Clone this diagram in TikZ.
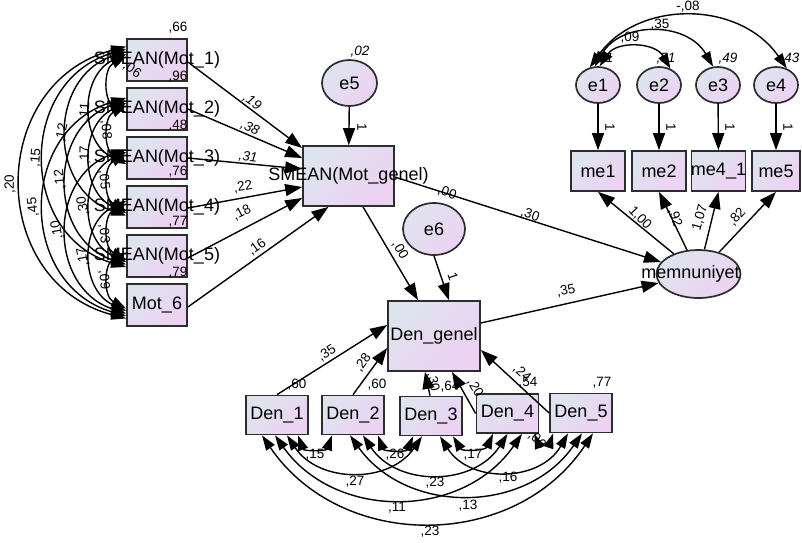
\documentclass[tikz,border=0pt]{standalone}
\usepackage{fontspec}
\setmainfont{Liberation Sans}
\usetikzlibrary{arrows.meta,shapes.geometric}

\definecolor{fillA}{RGB}{222,228,238}
\definecolor{fillB}{RGB}{237,210,244}
\definecolor{rim}{RGB}{45,45,45}

\tikzset{
  shaded/.style={draw=rim, line width=1.7pt, top color=fillA, bottom color=fillB,
    shading angle=45, inner sep=0pt},
  obsbox/.style={shaded, rectangle},
  latent/.style={shaded, ellipse},
  vname/.style={font=\fontsize{18}{20}\selectfont, inner sep=0pt},
  num/.style={font=\fontsize{13.5}{15}\selectfont, inner sep=0pt},
  numi/.style={font=\fontsize{13.5}{15}\selectfont\itshape, inner sep=0pt},
  reg/.style={line width=1.4pt, -{Triangle[length=17pt,width=12pt]}},
  cov/.style={line width=1.4pt, {Triangle[length=15pt,width=10pt]}-{Triangle[length=15pt,width=10pt]}},
}

\begin{document}
\begin{tikzpicture}[x=1pt,y=1pt]
\useasboundingbox (0,0) rectangle (802,-542);
\fill[white] (0,0) rectangle (802,-542);

% ---------- observed motivation items ----------
\node[obsbox, minimum width=60pt, minimum height=42pt, label={[vname]center:SMEAN(Mot\_1)}] (M1) at (157,-60) {};
\node[obsbox, minimum width=60pt, minimum height=42pt, label={[vname]center:SMEAN(Mot\_2)}] (M2) at (157,-109) {};
\node[obsbox, minimum width=60pt, minimum height=42pt, label={[vname]center:SMEAN(Mot\_3)}] (M3) at (157,-158) {};
\node[obsbox, minimum width=60pt, minimum height=42pt, label={[vname]center:SMEAN(Mot\_4)}] (M4) at (157,-207) {};
\node[obsbox, minimum width=60pt, minimum height=42pt, label={[vname]center:SMEAN(Mot\_5)}] (M5) at (157,-256) {};
\node[obsbox, minimum width=60pt, minimum height=42pt, label={[vname]center:Mot\_6}] (M6) at (157,-305) {};

% ---------- central variables ----------
\node[obsbox, minimum width=91pt, minimum height=60pt, label={[vname]center:SMEAN(Mot\_genel)}] (MG) at (348.5,-176) {};
\node[latent, minimum width=55pt, minimum height=46pt, label={[vname]center:e5}] (e5) at (349.5,-83) {};
\node[latent, minimum width=62pt, minimum height=52pt, label={[vname]center:e6}] (e6) at (434,-229) {};
\node[obsbox, minimum width=92pt, minimum height=70pt, label={[vname]center:Den\_genel}] (DG) at (434,-336) {};

% ---------- Den items ----------
\node[obsbox, minimum width=62pt, minimum height=39pt, label={[vname]center:Den\_1}] (D1) at (277,-415) {};
\node[obsbox, minimum width=62pt, minimum height=39pt, label={[vname]center:Den\_2}] (D2) at (353,-415) {};
\node[obsbox, minimum width=62pt, minimum height=39pt, label={[vname]center:Den\_3}] (D3) at (431,-416) {};
\node[obsbox, minimum width=62pt, minimum height=39pt, label={[vname]center:Den\_4}] (D4) at (507.5,-413.5) {};
\node[obsbox, minimum width=62pt, minimum height=39pt, label={[vname]center:Den\_5}] (D5) at (581,-413) {};

% ---------- satisfaction factor ----------
\node[latent, minimum width=84pt, minimum height=48pt, label={[vname, xshift=-8pt]center:memnuniyet}] (mem) at (698.5,-274) {};
\node[obsbox, minimum width=54pt, minimum height=40pt, label={[vname]center:me1}] (me1) at (598,-171) {};
\node[obsbox, minimum width=54pt, minimum height=40pt, label={[vname]center:me2}] (me2) at (659,-171) {};
\node[obsbox, minimum width=54pt, minimum height=40pt, label={[vname]center:me4\_1}] (me4) at (718.5,-171) {};
\node[obsbox, minimum width=48pt, minimum height=40pt, label={[vname]center:me5}] (me5) at (776,-171) {};
\node[latent, minimum width=44pt, minimum height=36pt, label={[vname]center:e1}] (e1) at (598,-85) {};
\node[latent, minimum width=44pt, minimum height=36pt, label={[vname]center:e2}] (e2) at (659,-85) {};
\node[latent, minimum width=44pt, minimum height=36pt, label={[vname]center:e3}] (e3) at (718,-85) {};
\node[latent, minimum width=44pt, minimum height=36pt, label={[vname]center:e4}] (e4) at (776,-85) {};

% ---------- estimates ----------
% variances of motivation items
\node[num] (vM1) at (178,-28) {,66};
\node[num] (vM2) at (178,-77) {,96};
\node[num] (vM3) at (178,-126) {,48};
\node[num] (vM4) at (178,-172) {,76};
\node[num] (vM5) at (178,-222) {,77};
\node[num] (vM6) at (178,-273) {,79};
% covariances of motivation items
\node[num, rotate=-35] (cM12) at (132,-70) {,06};
\node[num, rotate=85] (cM13) at (85,-112) {,11};
\node[num, rotate=80] (cM14) at (62,-133) {,12};
\node[num, rotate=85] (cM15) at (36,-158) {,15};
\node[num, rotate=90] (cM16) at (10,-184) {,20};
\node[num, rotate=-85] (cM23) at (106,-130) {,08};
\node[num, rotate=90] (cM24) at (85,-155) {,17};
\node[num, rotate=95] (cM25) at (60,-179) {,12};
\node[num, rotate=95] (cM26) at (33,-207) {,45};
\node[num, rotate=-85] (cM34) at (104,-180) {,05};
\node[num, rotate=100] (cM35) at (83,-206) {,30};
\node[num, rotate=100] (cM36) at (57,-230) {,10};
\node[num, rotate=-85] (cM45) at (104,-234) {,03};
\node[num, rotate=100] (cM46) at (83,-257) {,17};
\node[num, rotate=-85] (cM56) at (104,-280) {,09};
% weights into Mot_genel
\node[numi, rotate=-36] (wM1) at (252,-102) {,19};
\node[numi, rotate=-23] (wM2) at (250,-128) {,38};
\node[numi, rotate=-6] (wM3) at (248,-157) {,31};
\node[num, rotate=10] (wM4) at (243,-187) {,22};
\node[num, rotate=27] (wM5) at (242,-213) {,18};
\node[num, rotate=36] (wM6) at (257,-247) {,16};
\node[numi] (v5) at (360,-52) {,02};
\node[num, rotate=-90] (w5) at (362,-127) {1};
\node[num, rotate=-60] (wMD) at (400,-250) {,00};
\node[num, rotate=-72] (w6) at (453,-277) {1};
\node[num, rotate=-19] (vMG) at (447,-193) {,00};
\node[num, rotate=-19] (wMm) at (530,-215) {,30};
\node[num, rotate=12] (wDm) at (566,-291) {,35};
% loadings of memnuniyet
\node[num, rotate=-46] (l1) at (640,-218) {1,00};
\node[num, rotate=-72] (l2) at (675,-218) {,92};
\node[num, rotate=74] (l3) at (700,-218) {1,07};
\node[num, rotate=48] (l4) at (737,-217) {,82};
\node[num, rotate=-90] (f1) at (610,-127) {1};
\node[num, rotate=-90] (f2) at (671,-127) {1};
\node[num, rotate=-90] (f3) at (730,-127) {1};
\node[num, rotate=-90] (f4) at (788,-127) {1};
\node[numi] (ve1) at (604,-59) {,51};
\node[numi] (ve2) at (666,-59) {,51};
\node[numi] (ve3) at (728,-59) {,49};
\node[numi] (ve4) at (790,-59) {,43};
\node[num] (ce12) at (630,-38) {,09};
\node[num] (ce13) at (660,-25) {,35};
\node[num] (ce14) at (688,-7) {-,08};
% weights into Den_genel
\node[num, rotate=33] (wD1) at (327,-353) {,35};
\node[num, rotate=54] (wD2) at (363,-363) {,28};
\node[num, rotate=-79] (wD3) at (433,-382) {,30};
\node[num, rotate=-59] (wD4) at (475,-388) {,20};
\node[num, rotate=-42] (wD5) at (522,-373) {,24};
\node[num] (vD1) at (297,-385) {,60};
\node[num] (vD2) at (377,-385) {,60};
\node[num] (vD3) at (450,-387) {,64};
\node[num] (vD4) at (528,-383) {,54};
\node[num] (vD5) at (602,-383) {,77};
% covariances of Den items
\node[num] (cD12) at (315,-455) {,15};
\node[num] (cD23) at (395,-455) {,26};
\node[num] (cD34) at (473,-455) {,17};
\node[num] (cD13) at (355,-482) {,27};
\node[num] (cD24) at (435,-483) {,23};
\node[num] (cD35) at (508,-478) {,16};
\node[num] (cD14) at (397,-508) {,11};
\node[num] (cD25) at (468,-506) {,13};
\node[num] (cD15) at (430,-532) {,23};
\node[num, rotate=-45] (cD45) at (537,-440) {,06};

% ---------- regression paths ----------
\draw[reg] ([yshift=-2pt]M1.east) -- ([yshift=28pt]MG.west);
\draw[reg] (M2.east) -- ([yshift=18pt]MG.west);
\draw[reg] (M3.east) -- ([yshift=7pt]MG.west);
\draw[reg] ([yshift=-1pt]M4.east) -- ([yshift=-11pt]MG.west);
\draw[reg] ([yshift=-2pt]M5.east) -- ([yshift=-22pt]MG.west);
\draw[reg] ([yshift=-2pt]M6.east) -- ([xshift=-20pt]MG.south);
\draw[reg] (e5) -- (MG);
\draw[reg] ([xshift=14.5pt]MG.south) -- ([xshift=-16pt]DG.north);
\draw[reg] (e6.south) -- ([xshift=15pt]DG.north);
\draw[reg] ([yshift=-1pt]MG.east) -- (mem);
\draw[reg] ([yshift=13pt]DG.east) -- (mem);
\draw[reg] (D1.north) -- ([yshift=11pt]DG.west);
\draw[reg] (D2.north) -- ([yshift=-12pt]DG.west);
\draw[reg] ([xshift=-1pt]D3.north) -- ([xshift=-9pt]DG.south);
\draw[reg] (D4.west) -- ([xshift=18pt]DG.south);
\draw[reg] (D5.west) -- ([yshift=-14pt]DG.east);
\draw[reg] (e1) -- (me1);
\draw[reg] (e2) -- (me2);
\draw[reg] (e3) -- (me4);
\draw[reg] (e4) -- (me5);
\draw[reg] (mem) -- (me1.south);
\draw[reg] (mem) -- (me2.south);
\draw[reg] (mem) -- (me4.south);
\draw[reg] (mem) -- (me5.south);

% ---------- covariances among motivation items ----------
\draw[cov] ([yshift=3.5pt]M1.west) to[bend right=62.5, looseness=1.17] ([yshift=-3.5pt]M2.west);
\draw[cov] ([yshift=3.5pt]M2.west) to[bend right=62.5, looseness=1.17] ([yshift=-3.5pt]M3.west);
\draw[cov] ([yshift=3.5pt]M3.west) to[bend right=62.5, looseness=1.17] ([yshift=-3.5pt]M4.west);
\draw[cov] ([yshift=3.5pt]M4.west) to[bend right=62.5, looseness=1.17] ([yshift=-3.5pt]M5.west);
\draw[cov] ([yshift=3.5pt]M5.west) to[bend right=62.5, looseness=1.17] ([yshift=-3.5pt]M6.west);
\draw[cov] ([yshift=6pt]M1.west) to[bend right=65, looseness=1.2] ([yshift=-6pt]M3.west);
\draw[cov] ([yshift=6pt]M2.west) to[bend right=65, looseness=1.2] ([yshift=-6pt]M4.west);
\draw[cov] ([yshift=6pt]M3.west) to[bend right=65, looseness=1.2] ([yshift=-6pt]M5.west);
\draw[cov] ([yshift=6pt]M4.west) to[bend right=65, looseness=1.2] ([yshift=-6pt]M6.west);
\draw[cov] ([yshift=8.5pt]M1.west) to[bend right=71.5, looseness=1.29] ([yshift=-8.5pt]M4.west);
\draw[cov] ([yshift=8.5pt]M2.west) to[bend right=71.5, looseness=1.29] ([yshift=-8.5pt]M5.west);
\draw[cov] ([yshift=8.5pt]M3.west) to[bend right=71.5, looseness=1.29] ([yshift=-8.5pt]M6.west);
\draw[cov] ([yshift=11pt]M1.west) to[bend right=73.7, looseness=1.33] ([yshift=-11pt]M5.west);
\draw[cov] ([yshift=11pt]M2.west) to[bend right=73.7, looseness=1.33] ([yshift=-11pt]M6.west);
\draw[cov] ([yshift=13.5pt]M1.west) to[bend right=75.1, looseness=1.36] ([yshift=-13.5pt]M6.west);

% ---------- covariances among Den items ----------
\draw[cov] ([xshift=21pt]D1.south) to[bend right=70, looseness=1.28] ([xshift=-21pt]D2.south);
\draw[cov] ([xshift=10pt]D1.south) to[bend right=56, looseness=1.09] ([xshift=-9pt]D3.south);
\draw[cov] ([xshift=-2pt]D1.south) to[bend right=55, looseness=1.08] ([xshift=14.5pt]D4.south);
\draw[cov] ([xshift=-15pt]D1.south) to[bend right=56, looseness=1.09] ([xshift=12pt]D5.south);
\draw[cov] ([xshift=25pt]D2.south) to[bend right=69, looseness=1.25] ([xshift=-18pt]D3.south);
\draw[cov] ([xshift=10pt]D2.south) to[bend right=57, looseness=1.1] (D4.south);
\draw[cov] ([xshift=-3pt]D2.south) to[bend right=55, looseness=1.08] ([xshift=1pt]D5.south);
\draw[cov] ([xshift=22pt]D3.south) to[bend right=62, looseness=1.16] ([xshift=-14.5pt]D4.south);
\draw[cov] ([xshift=9pt]D3.south) to[bend right=59, looseness=1.12] ([xshift=-13pt]D5.south);
\draw[cov] ([xshift=-5pt]D4.south east) to[bend right=70, looseness=1.3] ([xshift=4pt]D5.south west);

% ---------- covariances among residuals of memnuniyet items ----------
\draw[cov] (e1.85) to[bend left=58, looseness=1.11] (e2.55);
\draw[cov] (e1.100) to[bend left=60, looseness=1.13] (e3.105);
\draw[cov] (e1.115) to[bend left=55, looseness=1.08] (e4.57);
\end{tikzpicture}
\end{document}
